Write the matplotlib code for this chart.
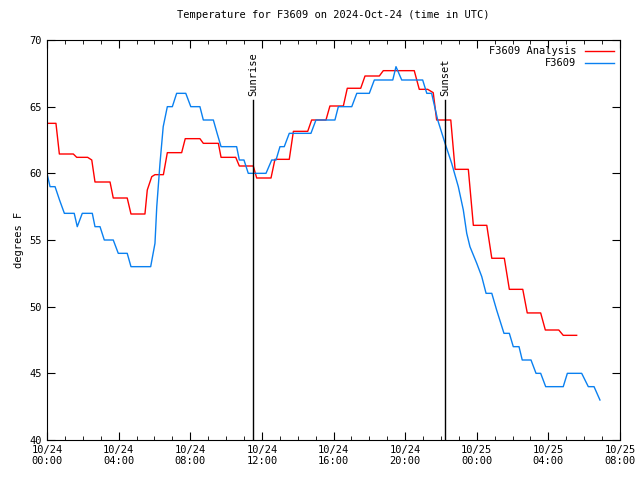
import matplotlib
matplotlib.use('Agg')
import matplotlib.pyplot as plt
from matplotlib.ticker import MultipleLocator

# hours since 2024-10-24 00:00 UTC
obs_hours = [0.0, 0.17, 0.45, 0.7, 0.97, 1.52, 1.69, 1.97, 2.53, 2.68, 2.96, 3.2, 3.7, 3.98,
             4.48, 4.69, 5.79, 6.03, 6.13, 6.31, 6.49, 6.72, 7.0, 7.24, 7.75, 8.03, 8.54, 8.73,
             9.29, 9.5, 9.72, 10.59, 10.74, 11.0, 11.24, 12.23, 12.55, 12.79, 13.01, 13.25,
             13.53, 14.74, 15.02, 16.08, 16.27, 17.02, 17.3, 18.0, 18.28, 19.31, 19.49, 19.81,
             20.98, 21.21, 21.48, 21.82, 22.23, 22.6, 22.97, 23.25, 23.44, 23.62, 24.0, 24.28,
             24.52, 24.84, 25.11, 25.52, 25.82, 26.04, 26.36, 26.54, 27.03, 27.31, 27.57, 27.85,
             28.83, 29.06, 29.86, 30.23, 30.55, 30.88]
obs_temps = [60, 59, 59, 58, 57, 57, 56, 57, 57, 56, 56, 55, 55, 54,
             54, 53, 53, 54.75, 57.5, 60.75, 63.5, 65, 65, 66, 66, 65, 65, 64,
             64, 63, 62, 62, 61, 61, 60, 60, 61, 61, 62, 62,
             63, 63, 64, 64, 65, 65, 66, 66, 67, 67, 68, 67,
             67, 66, 66, 64, 62.25, 60.75, 59, 57.25, 55.5, 54.5, 53.25, 52.25,
             51, 51, 49.75, 48, 48, 47, 47, 46, 46, 45, 45, 44,
             44, 45, 45, 44, 44, 43]

ana_hours = [0.0, 0.5, 0.69, 1.47, 1.66, 2.27, 2.5, 2.68, 3.52, 3.7, 4.48, 4.69, 5.47, 5.6,
             5.85, 6.03, 6.5, 6.72, 7.52, 7.72, 8.54, 8.73, 9.57, 9.72, 10.54, 10.74, 11.52, 11.71,
             12.51, 12.73, 13.53, 13.76, 14.56, 14.78, 15.58, 15.8, 16.55, 16.77, 17.52, 17.76,
             18.56, 18.78, 20.51, 20.79, 21.26, 21.57, 21.76, 22.55, 22.79, 23.53, 23.81, 24.56,
             24.84, 25.54, 25.82, 26.57, 26.82, 27.57, 27.83, 28.58, 28.83, 29.58]
ana_temps = [63.75, 63.75, 61.45, 61.45, 61.2, 61.2, 61.0, 59.35, 59.35, 58.15, 58.15, 56.95,
             56.95, 58.75, 59.75, 59.9, 59.9, 61.55, 61.55, 62.6, 62.6, 62.25, 62.25, 61.2, 61.2,
             60.55, 60.55, 59.65, 59.65, 61.05, 61.05, 63.15, 63.15, 64.0, 64.0, 65.05, 65.05,
             66.38, 66.38, 67.3, 67.3, 67.7, 67.7, 66.3, 66.3, 66.05, 64.0, 64.0, 60.3, 60.3,
             56.1, 56.1, 53.63, 53.63, 51.3, 51.3, 49.53, 49.53, 48.25, 48.25, 47.85, 47.85]

sunrise = 11.5
sunset = 22.23

tick_hours = [0, 4, 8, 12, 16, 20, 24, 28, 32]
tick_labels = ['10/24\n00:00', '10/24\n04:00', '10/24\n08:00', '10/24\n12:00', '10/24\n16:00',
               '10/24\n20:00', '10/25\n00:00', '10/25\n04:00', '10/25\n08:00']

plt.rcParams['font.family'] = 'DejaVu Sans Mono'
plt.rcParams['font.size'] = 7.5

fig = plt.figure(figsize=(6.4, 4.8), dpi=100)
ax = fig.add_axes([47 / 640, 40 / 480, 573 / 640, 400 / 480])

ax.plot(ana_hours, ana_temps, color='#ff0000', linewidth=1, label='F3609 Analysis')
ax.plot(obs_hours, obs_temps, color='#0a80f0', linewidth=1, label='F3609')

for h, name in [(sunrise, 'Sunrise'), (sunset, 'Sunset')]:
    ax.plot([h, h], [40, 65.5], color='black', linewidth=1)
    ax.text(h, 65.8, name, rotation=90, ha='center', va='bottom')

ax.set_xlim(0, 32)
ax.set_ylim(40, 70)
ax.set_xticks(tick_hours)
ax.set_xticklabels(tick_labels)
ax.xaxis.set_minor_locator(MultipleLocator(1))
ax.set_yticks(range(40, 71, 5))
ax.tick_params(which='both', direction='in', top=True, right=True)
ax.tick_params(which='major', length=6)
ax.tick_params(which='minor', length=3)
ax.set_ylabel('degrees F')
ax.set_title('Temperature for F3609 on 2024-Oct-24 (time in UTC)', fontsize=7.5, pad=16)

ax.legend(loc='upper right', frameon=False, markerfirst=False, handlelength=2.8,
          borderaxespad=0.2, labelspacing=0.2)

fig.savefig('out.png', dpi=100)
